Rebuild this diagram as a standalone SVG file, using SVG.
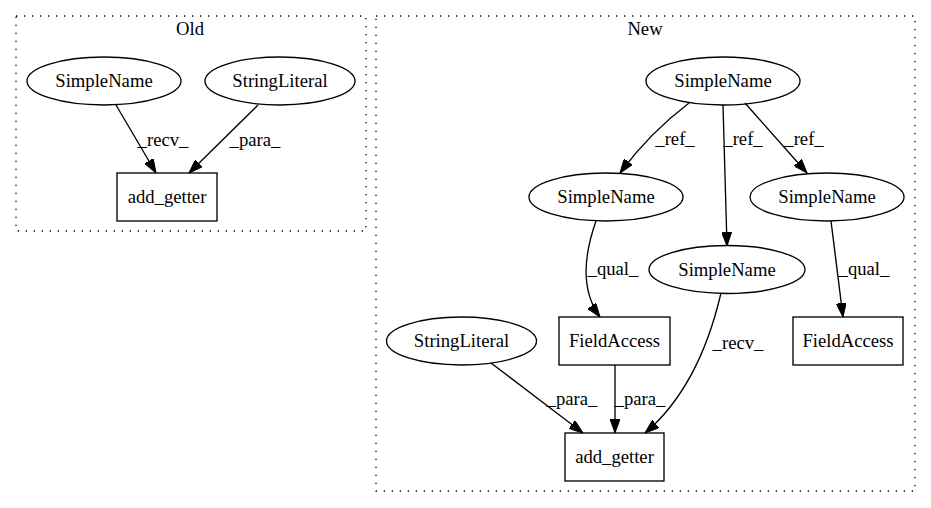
<svg xmlns="http://www.w3.org/2000/svg" width="931" height="508" viewBox="0 0 931 508">
<style>
  text { font-family: "Liberation Serif", "Times New Roman", serif; font-size: 18.67px; fill: #000; text-anchor: middle; }
  .node { fill: none; stroke: #000; stroke-width: 1.33; }
  .cluster { fill: none; stroke: #000; stroke-width: 1.33; stroke-dasharray: 1.33 6.67; }
  .edge { fill: none; stroke: #000; stroke-width: 1.33; marker-end: url(#arrow); }
</style>
<defs>
  <marker id="arrow" viewBox="0 0 14 10" refX="14" refY="5" markerWidth="14" markerHeight="10" markerUnits="userSpaceOnUse" orient="auto">
    <path d="M0,0 L14,5 L0,10 z" fill="#000" stroke="#000" stroke-width="1"/>
  </marker>
</defs>
<rect width="931" height="508" fill="#fff"/>

<g id="cluster_old">
  <rect class="cluster" x="16" y="16" width="350" height="215"/>
  <text x="190" y="35">Old</text>
</g>
<g id="cluster_new">
  <rect class="cluster" x="376" y="16" width="539" height="475"/>
  <text x="645" y="35">New</text>
</g>

<g id="connectors">
  <path class="edge" d="M116,105 L156,173"/>
  <text x="163" y="146">_recv_</text>
  <path class="edge" d="M258,105 L189,173"/>
  <text x="255" y="146">_para_</text>

  <path class="edge" d="M689,103 C668,119 642,143 620,173"/>
  <text x="675" y="145">_ref_</text>
  <path class="edge" d="M723,105 L727,246"/>
  <text x="743" y="145">_ref_</text>
  <path class="edge" d="M745,103 L807,173"/>
  <text x="804" y="145">_ref_</text>

  <path class="edge" d="M596,221 C584,255 580,290 600,317"/>
  <text x="613" y="275">_qual_</text>
  <path class="edge" d="M831,221 L843,317"/>
  <text x="864" y="275">_qual_</text>

  <path class="edge" d="M721,293 C710,340 690,395 645,433"/>
  <text x="738" y="349">_recv_</text>
  <path class="edge" d="M491,363 L583,433"/>
  <text x="572" y="405">_para_</text>
  <path class="edge" d="M615,365 L615,433"/>
  <text x="640" y="405">_para_</text>
</g>

<g id="old_simplename">
  <ellipse class="node" cx="104" cy="81" rx="77" ry="24"/>
  <text x="104" y="87">SimpleName</text>
</g>
<g id="old_stringliteral">
  <ellipse class="node" cx="280" cy="81" rx="75" ry="24"/>
  <text x="280" y="87">StringLiteral</text>
</g>
<g id="old_add_getter">
  <rect class="node" x="117" y="173" width="100" height="48"/>
  <text x="167" y="203">add_getter</text>
</g>

<g id="new_simplename_top">
  <ellipse class="node" cx="723" cy="81" rx="77" ry="24"/>
  <text x="723" y="87">SimpleName</text>
</g>
<g id="new_simplename_left">
  <ellipse class="node" cx="606" cy="197" rx="77" ry="24"/>
  <text x="606" y="203">SimpleName</text>
</g>
<g id="new_simplename_right">
  <ellipse class="node" cx="827" cy="197" rx="77" ry="24"/>
  <text x="827" y="203">SimpleName</text>
</g>
<g id="new_simplename_mid">
  <ellipse class="node" cx="727" cy="269.5" rx="78" ry="24"/>
  <text x="727" y="275.5">SimpleName</text>
</g>
<g id="new_stringliteral">
  <ellipse class="node" cx="461.5" cy="341" rx="75" ry="24"/>
  <text x="461.5" y="347">StringLiteral</text>
</g>
<g id="new_fieldaccess_left">
  <rect class="node" x="559" y="317" width="111" height="48"/>
  <text x="614.5" y="347">FieldAccess</text>
</g>
<g id="new_fieldaccess_right">
  <rect class="node" x="793" y="317" width="110" height="48"/>
  <text x="848" y="347">FieldAccess</text>
</g>
<g id="new_add_getter">
  <rect class="node" x="565" y="433" width="99" height="48"/>
  <text x="614.5" y="463">add_getter</text>
</g>
</svg>
